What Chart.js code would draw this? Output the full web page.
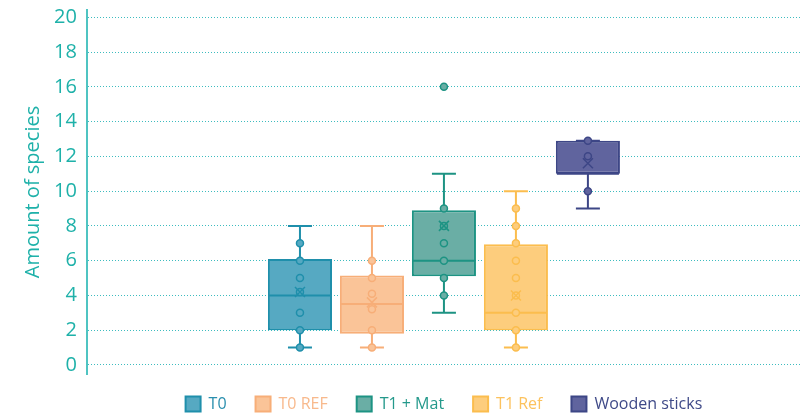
<!DOCTYPE html>
<html>
<head>
<meta charset="utf-8">
<script src="https://cdn.jsdelivr.net/npm/chart.js@4.4.1/dist/chart.umd.min.js"></script>
<style>
  html, body { margin: 0; padding: 0; background: #fff; }
  #wrap { width: 801px; height: 417px; position: relative; }
</style>
</head>
<body>
<div id="wrap"><canvas id="boxChart"></canvas></div>
<script>
const categories = ["T0", "T0 REF", "T1 + Mat", "T1 Ref", "Wooden sticks"];
const minVals = [1, 1, 3, 1, 9];
const q1Vals = [2, 1.8, 5.1, 2, 11];
const medianVals = [4, 3.5, 6, 3, 11];
const q3Vals = [6.1, 5.15, 8.9, 6.95, 12.9];
const maxVals = [8, 8, 11, 10, 12.9];
const meanVals = [4.2, 3.6, 8, 4, 11.6];
const pointVals = [
  [1, 2, 3, 4.2, 5, 6, 7],
  [1, 2, 3.2, 4.1, 5, 6],
  [4, 5, 6, 7, 8, 9],
  [1, 2, 3, 4, 5, 6, 7, 8, 9],
  [10, 12, 12.9],
];
const outlierVals = [[], [], [16], [], []];
const yTicks = [0, 2, 4, 6, 8, 10, 12, 14, 16, 18, 20];

const fillColors = ["#56a9c2", "#fac498", "#6aaea5", "#fdcd7d", "#60649e"];
const lineColors = ["#1f8fab", "#f7ae78", "#1d9383", "#fbbd4e", "#3d4686"];
const textColors = ["#2a8fae", "#f8b98c", "#24998b", "#fcc25e", "#3f4a88"];
const teal = "#1eb1a9";

// whiskers, medians, points and means on top of the floating bars
const boxExtras = {
  id: "boxExtras",
  afterLayout(chart) {
    // legend sits a bit higher than its layout box, keep the clip area to the bottom edge
    chart.legend.top -= 7;
    chart.legend.bottom = chart.height;
  },
  afterDatasetsDraw(chart) {
    const ctx = chart.ctx;
    const y = chart.scales.y;
    chart.data.datasets.forEach((ds, i) => {
      const bar = chart.getDatasetMeta(i).data[0];
      const cx = bar.x;
      const half = bar.width / 2;
      ctx.save();
      ctx.strokeStyle = lineColors[i];
      ctx.lineWidth = 2;
      ctx.beginPath();
      ctx.moveTo(cx, y.getPixelForValue(q3Vals[i]));
      ctx.lineTo(cx, y.getPixelForValue(maxVals[i]));
      ctx.moveTo(cx, y.getPixelForValue(q1Vals[i]));
      ctx.lineTo(cx, y.getPixelForValue(minVals[i]));
      ctx.moveTo(cx - 12, y.getPixelForValue(maxVals[i]));
      ctx.lineTo(cx + 12, y.getPixelForValue(maxVals[i]));
      ctx.moveTo(cx - 12, y.getPixelForValue(minVals[i]));
      ctx.lineTo(cx + 12, y.getPixelForValue(minVals[i]));
      ctx.moveTo(cx - half + 1, y.getPixelForValue(medianVals[i]));
      ctx.lineTo(cx + half - 1, y.getPixelForValue(medianVals[i]));
      ctx.stroke();

      ctx.lineWidth = 1.5;
      ctx.fillStyle = fillColors[i];
      pointVals[i].concat(outlierVals[i]).forEach(v => {
        ctx.beginPath();
        ctx.arc(cx, y.getPixelForValue(v), 3.5, 0, Math.PI * 2);
        ctx.fill();
        ctx.stroke();
      });

      const my = y.getPixelForValue(meanVals[i]);
      ctx.beginPath();
      ctx.moveTo(cx - 5, my - 5);
      ctx.lineTo(cx + 5, my + 5);
      ctx.moveTo(cx + 5, my - 5);
      ctx.lineTo(cx - 5, my + 5);
      ctx.stroke();
      ctx.restore();
    });
  },
};

const ctx = document.getElementById("boxChart");
new Chart(ctx, {
  type: "bar",
  data: {
    labels: [""],
    datasets: categories.map((name, i) => ({
      label: name,
      data: [[q1Vals[i], q3Vals[i]]],
      backgroundColor: fillColors[i],
      borderColor: lineColors[i],
      borderWidth: 2,
      borderSkipped: false,
      categoryPercentage: 0.504,
      barPercentage: 0.89,
    })),
  },
  options: {
    responsive: true,
    maintainAspectRatio: false,
    animation: false,
    layout: {
      padding: { left: 21, right: 0, top: 10, bottom: 0 },
    },
    scales: {
      x: {
        display: false,
      },
      y: {
        min: -0.52,
        max: 20.42,
        afterBuildTicks: (scale) => {
          scale.ticks = yTicks.map(v => ({ value: v }));
        },
        ticks: {
          color: teal,
          padding: 0,
          font: { family: "Open Sans", size: 20, lineHeight: 1 },
        },
        grid: {
          color: "#3dbcbf",
          lineWidth: 1,
          drawTicks: true,
          tickLength: 10,
          tickColor: "rgba(0,0,0,0)",
        },
        border: {
          display: true,
          color: "#4fc4c2",
          width: 2,
          dash: [1, 2],
        },
        title: {
          display: true,
          text: "Amount of species",
          color: teal,
          font: { family: "Open Sans", size: 20 },
          padding: { top: 0, bottom: 9 },
        },
      },
    },
    plugins: {
      tooltip: { enabled: false },
      legend: {
        position: "bottom",
        fullSize: false,
        maxHeight: 43,
        labels: {
          boxWidth: 15,
          boxHeight: 15,
          padding: 29,
          font: { family: "Open Sans", size: 16 },
          generateLabels: (chart) =>
            chart.data.datasets.map((ds, i) => ({
              text: ds.label,
              fillStyle: fillColors[i],
              strokeStyle: lineColors[i],
              lineWidth: 2,
              fontColor: textColors[i],
              hidden: false,
              datasetIndex: i,
            })),
        },
      },
    },
  },
  plugins: [boxExtras],
});
</script>
</body>
</html>
